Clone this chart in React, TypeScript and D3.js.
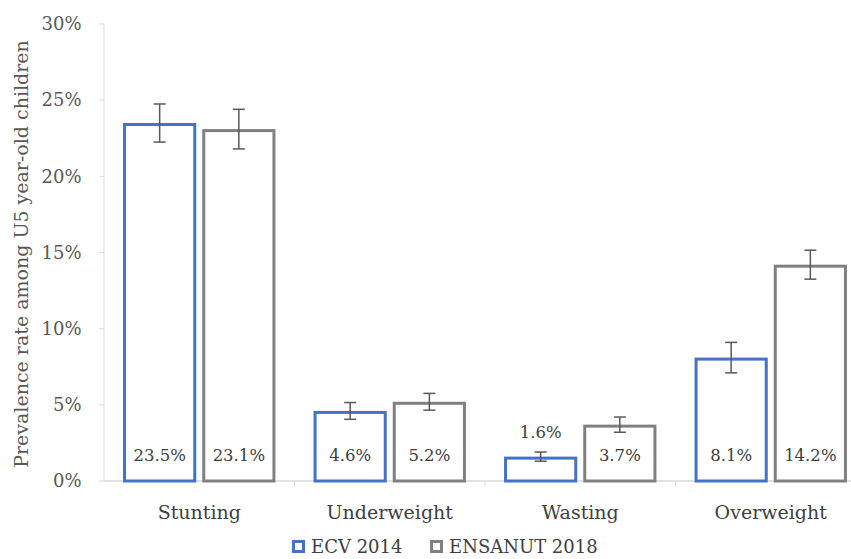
import React from "react";
import * as d3 from "d3";

const categories = ["Stunting", "Underweight", "Wasting", "Overweight"];
const seriesNames = ["ECV 2014", "ENSANUT 2018"];
const ecv2014 = [23.5, 4.6, 1.6, 8.1];
const ensanut2018 = [23.1, 5.2, 3.7, 14.2];
const ecvErr = [1.25, 0.55, 0.3, 1.0];
const ensanutErr = [1.3, 0.55, 0.5, 0.95];
const yTicks = [0, 5, 10, 15, 20, 25, 30];

const colors = ["#4472C4", "#808080"];
const textColor = "#404040";
const font = "'DejaVu Serif', serif";

export default function App() {
  const W = 851, H = 559;
  const left = 104, right = 866, top = 24, bottom = 481;
  const y = d3.scaleLinear().domain([0, 30]).range([bottom, top]);
  const x0 = d3.scaleBand<string>().domain(categories).range([left, right]).paddingInner(0.2).paddingOuter(0.1);
  const x1 = d3.scaleBand<string>().domain(seriesNames).range([0, x0.bandwidth()]).paddingInner(0.0758);
  const values = [ecv2014, ensanut2018];
  const errs = [ecvErr, ensanutErr];
  const sw = 3;
  const step = x0.step();
  return (
    <svg width={W} height={H} style={{ position: "absolute", left: 0, top: 0 }}>
      <rect width={W} height={H} fill="white" />
      {/* y axis */}
      <line x1={left} x2={left} y1={top} y2={bottom} stroke="#d9d9d9" strokeWidth={1} />
      {yTicks.map((t) => (
        <g key={t}>
          <line x1={left - 5} x2={left} y1={y(t)} y2={y(t)} stroke="#d9d9d9" />
          <text x={81.5} y={y(t)} dy="0.35em" textAnchor="end" fontFamily={font} fontSize={18} fill="#595959">
            {t}%
          </text>
        </g>
      ))}
      <text
        transform={`translate(28,254) rotate(-90)`}
        textAnchor="middle"
        fontFamily={font}
        fontSize={19}
        fill="#595959"
      >
        Prevalence rate among U5 year-old children
      </text>
      {/* x axis */}
      <line x1={left} x2={W} y1={bottom} y2={bottom} stroke="#d9d9d9" strokeWidth={1.5} />
      {categories.map((c, i) => (
        <line key={c + "t"} x1={left + step * (i + 1)} x2={left + step * (i + 1)} y1={bottom} y2={bottom + 5} stroke="#d9d9d9" />
      ))}
      {categories.map((c) => (
        <text key={c} x={(x0(c) as number) + x0.bandwidth() / 2} y={518.5} textAnchor="middle" fontFamily={font} fontSize={19} fill={textColor}>
          {c}
        </text>
      ))}
      {/* bars */}
      {categories.map((c, i) =>
        seriesNames.map((s, j) => {
          const v = values[j][i];
          const bx = (x0(c) as number) + (x1(s) as number);
          const bw = x1.bandwidth();
          const cx = bx + bw / 2;
          const e = errs[j][i];
          const labelInside = y(v) < 445;
          return (
            <g key={c + s}>
              <rect
                x={bx + sw / 2}
                y={y(v) + sw / 2}
                width={bw - sw}
                height={Math.max(0, y(0) - y(v) - sw / 2)}
                fill="white"
                stroke={colors[j]}
                strokeWidth={sw}
              />
              <line x1={cx} x2={cx} y1={y(v + e)} y2={y(v - e)} stroke="#595959" strokeWidth={1.5} />
              <line x1={cx - 6} x2={cx + 6} y1={y(v + e)} y2={y(v + e)} stroke="#595959" strokeWidth={1.5} />
              <line x1={cx - 6} x2={cx + 6} y1={y(v - e)} y2={y(v - e)} stroke="#595959" strokeWidth={1.5} />
              <text
                x={cx}
                y={labelInside ? 455.5 : 432}
                dy="0.35em"
                textAnchor="middle"
                fontFamily={font}
                fontSize={16.5}
                fill={textColor}
              >
                {v.toFixed(1)}%
              </text>
            </g>
          );
        })
      )}
      {/* legend */}
      {seriesNames.map((s, j) => {
        const lx = [292, 430][j];
        return (
          <g key={s}>
            <rect x={lx + 1.5} y={541.5} width={10} height={10} fill="white" stroke={colors[j]} strokeWidth={3} />
            <text x={lx + 19} y={547} dy="0.35em" fontFamily={font} fontSize={18} fill={textColor}>
              {s}
            </text>
          </g>
        );
      })}
    </svg>
  );
}
